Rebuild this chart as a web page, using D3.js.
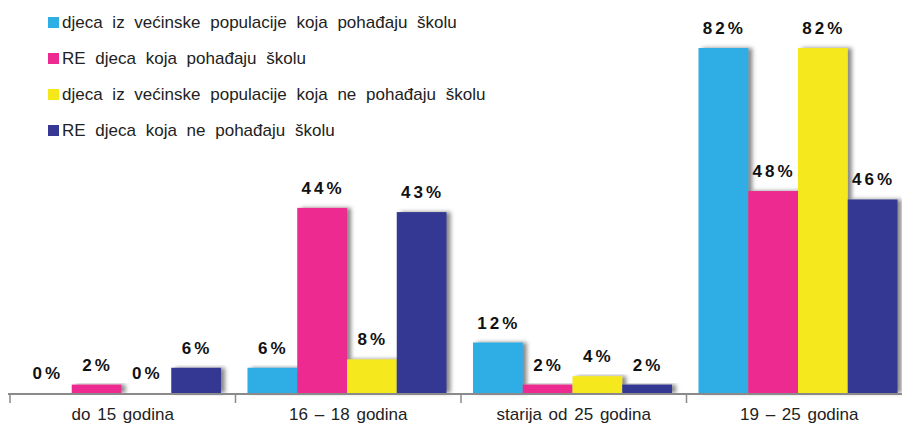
<!DOCTYPE html>
<html lang="hr">
<head>
<meta charset="UTF-8">
<title>Djeca i škola</title>
<script src="https://d3js.org/d3.v7.min.js"></script>
<style>
    body { margin: 0; padding: 0; background: #fff; }
    svg { display: block; font-family: "Liberation Sans", Arial, sans-serif; }
    .val { font-size: 17px; font-weight: bold; fill: #111; letter-spacing: 3px; text-anchor: middle; }
    .leg { font-size: 17px; fill: #222; word-spacing: 5px; }
    .cat { font-size: 17px; fill: #222; word-spacing: 2px; }
</style>
</head>
<body>
<svg width="902" height="425"></svg>
<script>
const categories = ["do 15 godina", "16 – 18 godina", "starija od 25 godina", "19 – 25 godina"];
const seriesNames = [
    "djeca iz većinske populacije koja pohađaju školu",
    "RE djeca koja pohađaju školu",
    "djeca iz većinske populacije koja ne pohađaju školu",
    "RE djeca koja ne pohađaju školu"
];
const seriesColors = ["#2daee4", "#ec2a8f", "#f5e81a", "#363893"];
// values per series, in category order
const values = [
    [0, 6, 12, 82],
    [2, 44, 2, 48],
    [0, 8, 4, 82],
    [6, 43, 2, 46]
];

const svg = d3.select("svg");
const baseY = 393;

const defs = svg.append("defs");
const f = defs.append("filter").attr("id", "shadow")
    .attr("x", "-10%").attr("y", "-10%").attr("width", "130%").attr("height", "120%");
f.append("feDropShadow").attr("dx", 4).attr("dy", 0).attr("stdDeviation", 2)
    .attr("flood-color", "#555").attr("flood-opacity", 0.7);

const x = d3.scaleBand().domain(categories).range([10, 912]).paddingInner(0);
const x1 = d3.scaleBand().domain(d3.range(seriesNames.length)).range([12, 211]);
const y = d3.scaleLinear().domain([0, 82]).range([baseY, 48]);

const rows = [];
categories.forEach(function(c, ci) {
    seriesNames.forEach(function(s, si) {
        rows.push({ cat: c, s: si, v: values[si][ci] });
    });
});

// bars
svg.append("g").selectAll("rect")
    .data(rows.filter(function(d) { return d.v > 0; }))
    .enter().append("rect")
    .attr("x", function(d) { return x(d.cat) + x1(d.s); })
    .attr("y", function(d) { return y(d.v); })
    .attr("width", x1.bandwidth())
    .attr("height", function(d) { return baseY - y(d.v); })
    .attr("fill", function(d) { return seriesColors[d.s]; })
    .attr("filter", "url(#shadow)");

// value labels
svg.append("g").selectAll("text")
    .data(rows)
    .enter().append("text")
    .attr("class", "val")
    .attr("x", function(d) { return x(d.cat) + x1(d.s) + x1.bandwidth() / 2 + 1; })
    .attr("y", function(d) { return y(d.v) - 14; })
    .text(function(d) { return d.v + "%"; });

// axis
const axis = svg.append("g").attr("transform", "translate(0," + (baseY + 1) + ")");
axis.append("line").attr("x1", 8).attr("x2", 902).attr("y1", 0).attr("y2", 0)
    .attr("stroke", "#8a8a8a").attr("stroke-width", 2);
axis.selectAll(".tk")
    .data(categories)
    .enter().append("line")
    .attr("x1", function(d) { return x(d); })
    .attr("x2", function(d) { return x(d); })
    .attr("y1", 0).attr("y2", 9)
    .attr("stroke", "#8a8a8a").attr("stroke-width", 1.5);
axis.selectAll(".cat")
    .data(categories)
    .enter().append("text")
    .attr("class", "cat")
    .attr("x", function(d) { return x(d) + x.bandwidth() / 2; })
    .attr("y", 26)
    .attr("text-anchor", "middle")
    .text(function(d) { return d; });

// legend
const leg = svg.append("g").selectAll("g")
    .data(seriesNames)
    .enter().append("g")
    .attr("transform", function(d, i) { return "translate(48," + (17 + i * 36) + ")"; });
leg.append("rect").attr("width", 11).attr("height", 11)
    .attr("fill", function(d, i) { return seriesColors[i]; });
leg.append("text").attr("class", "leg").attr("x", 14).attr("y", 11)
    .text(function(d) { return d; });
</script>
</body>
</html>
